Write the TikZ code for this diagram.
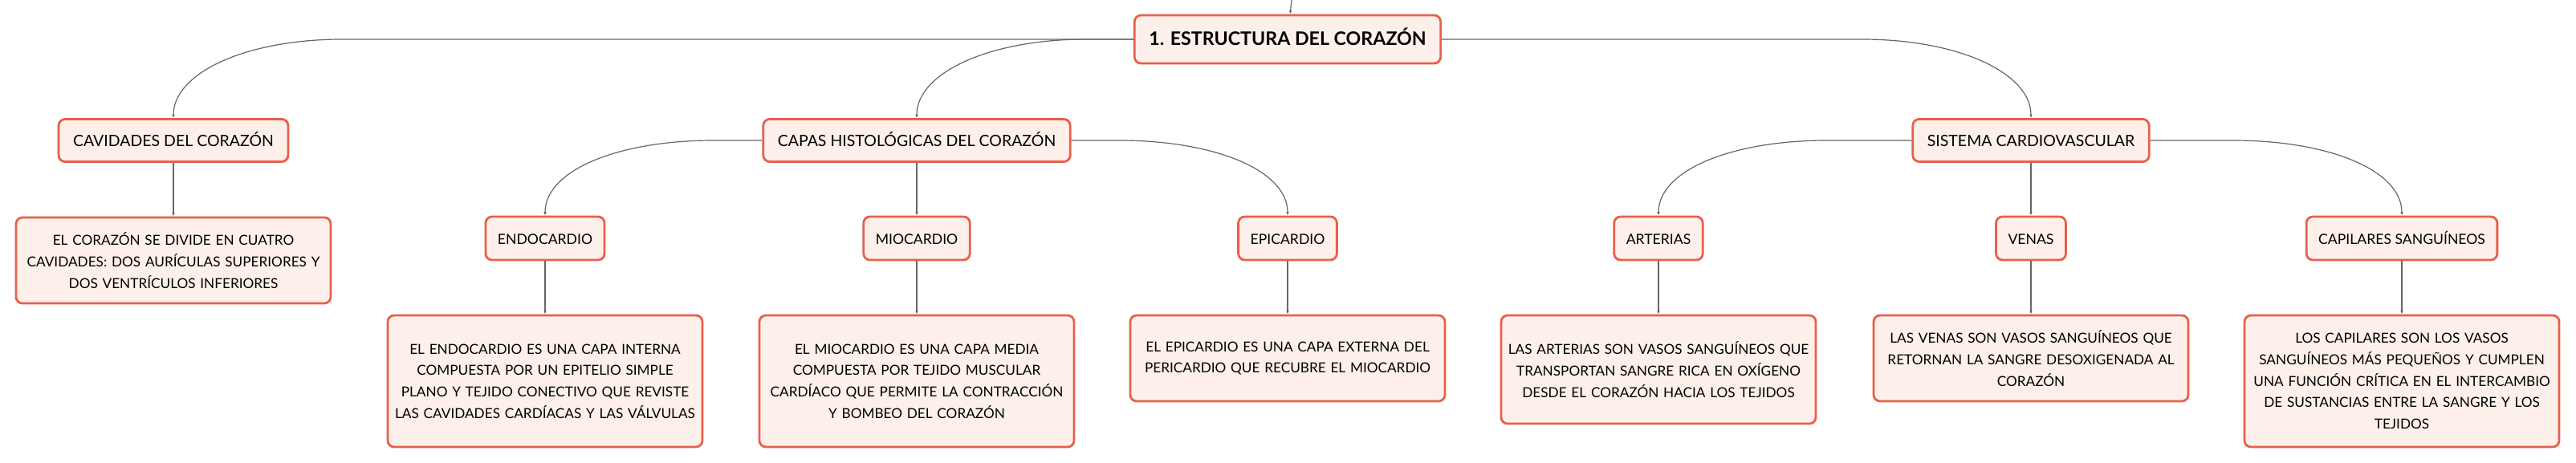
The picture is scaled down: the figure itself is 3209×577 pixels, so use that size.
\documentclass[tikz,border=0pt]{standalone}
\usepackage{fontspec}
\setmainfont{Lato}
\usetikzlibrary{arrows.meta}
\definecolor{boxline}{HTML}{E8604C}
\definecolor{boxfill}{HTML}{FDF0EB}
\definecolor{linkgray}{HTML}{666666}

\begin{document}
\begin{tikzpicture}[x=0.5pt,y=-0.5pt]
	\tikzstyle{main}=[rectangle, rounded corners=4pt, draw=boxline, line width=1.4pt, fill=boxfill, align=center, inner sep=0pt]
	\tikzstyle{title}=[main, font=\bfseries\fontsize{11.6}{14}\selectfont, text height=0.72em, text depth=0pt, minimum height=30pt, inner xsep=9pt]
	\tikzstyle{topic}=[main, font=\fontsize{9.75}{12}\selectfont, text height=0.72em, text depth=0pt, minimum height=26.5pt, inner xsep=9pt]
	\tikzstyle{sub}=[main, font=\fontsize{8.8}{11}\selectfont, text height=0.72em, text depth=0pt, minimum height=27pt, inner xsep=7.5pt]
	\tikzstyle{note}=[main, font=\fontsize{8.6}{13.35}\selectfont, text width=190pt, inner xsep=3pt]
	\tikzstyle{connect}=[-{Latex[length=2.2pt,width=1.8pt]}, line width=0.6pt, draw=linkgray]
	\tikzstyle{toleft}=[connect, to path={(\tikztostart.west) -- ([xshift=105pt]\tikztotarget.north |- \tikztostart.west) .. controls +(-60pt,0) and +(0,28pt) .. (\tikztotarget.north)}]
	\tikzstyle{toright}=[connect, to path={(\tikztostart.east) -- ([xshift=-105pt]\tikztotarget.north |- \tikztostart.east) .. controls +(60pt,0) and +(0,28pt) .. (\tikztotarget.north)}]
	\useasboundingbox (0,0) rectangle (3209,577);
	\coordinate (up) at (1609,0);
	\node[title] (root) at (1604,49) {1. ESTRUCTURA DEL CORAZÓN};
	\node[topic] (cav) at (216,175) {CAVIDADES DEL CORAZÓN};
	\node[topic] (capas) at (1142,175) {CAPAS HISTOLÓGICAS DEL CORAZÓN};
	\node[topic] (sist) at (2530,175) {SISTEMA CARDIOVASCULAR};
	\node[sub] (endo) at (679,297) {ENDOCARDIO};
	\node[sub] (mio) at (1142,297) {MIOCARDIO};
	\node[sub] (epi) at (1604,297) {EPICARDIO};
	\node[sub] (art) at (2066,297) {ARTERIAS};
	\node[sub] (ven) at (2530,297) {VENAS};
	\node[sub] (capil) at (2992,297) {CAPILARES SANGUÍNEOS};
	\node[note, minimum height=53.5pt] (cav_t) [below of=cav, node distance=74.75pt] {EL CORAZÓN SE DIVIDE EN CUATRO\\ CAVIDADES: DOS AURÍCULAS SUPERIORES Y\\ DOS VENTRÍCULOS INFERIORES};
	\node[note, minimum height=82pt] (endo_t) [below of=endo, node distance=89pt] {EL ENDOCARDIO ES UNA CAPA INTERNA\\ COMPUESTA POR UN EPITELIO SIMPLE\\ PLANO Y TEJIDO CONECTIVO QUE REVISTE\\ LAS CAVIDADES CARDÍACAS Y LAS VÁLVULAS};
	\node[note, minimum height=82pt] (mio_t) [below of=mio, node distance=89pt] {EL MIOCARDIO ES UNA CAPA MEDIA\\ COMPUESTA POR TEJIDO MUSCULAR\\ CARDÍACO QUE PERMITE LA CONTRACCIÓN\\ Y BOMBEO DEL CORAZÓN};
	\node[note, minimum height=53.5pt] (epi_t) [below of=epi, node distance=74.75pt] {EL EPICARDIO ES UNA CAPA EXTERNA DEL\\ PERICARDIO QUE RECUBRE EL MIOCARDIO};
	\node[note, minimum height=67.5pt] (art_t) [below of=art, node distance=81.75pt] {LAS ARTERIAS SON VASOS SANGUÍNEOS QUE\\ TRANSPORTAN SANGRE RICA EN OXÍGENO\\ DESDE EL CORAZÓN HACIA LOS TEJIDOS};
	\node[note, minimum height=53.5pt] (ven_t) [below of=ven, node distance=74.75pt] {LAS VENAS SON VASOS SANGUÍNEOS QUE\\ RETORNAN LA SANGRE DESOXIGENADA AL\\ CORAZÓN};
	\node[note, minimum height=82pt] (capil_t) [below of=capil, node distance=89pt] {LOS CAPILARES SON LOS VASOS\\ SANGUÍNEOS MÁS PEQUEÑOS Y CUMPLEN\\ UNA FUNCIÓN CRÍTICA EN EL INTERCAMBIO\\ DE SUSTANCIAS ENTRE LA SANGRE Y LOS\\ TEJIDOS};
	\path
	  (up) edge [connect] (root)
	  (root) edge [toleft] (cav)
	  	edge [toleft] (capas)
	  	edge [toright] (sist)
	  (cav) edge [connect] (cav_t)
	  (capas) edge [toleft] (endo)
	  	edge [connect] (mio)
	  	edge [toright] (epi)
	  (sist) edge [toleft] (art)
	  	edge [connect] (ven)
	  	edge [toright] (capil)
	  (endo) edge [connect] (endo_t)
	  (mio) edge [connect] (mio_t)
	  (epi) edge [connect] (epi_t)
	  (art) edge [connect] (art_t)
	  (ven) edge [connect] (ven_t)
	  (capil) edge [connect] (capil_t);
\end{tikzpicture}
\end{document}
